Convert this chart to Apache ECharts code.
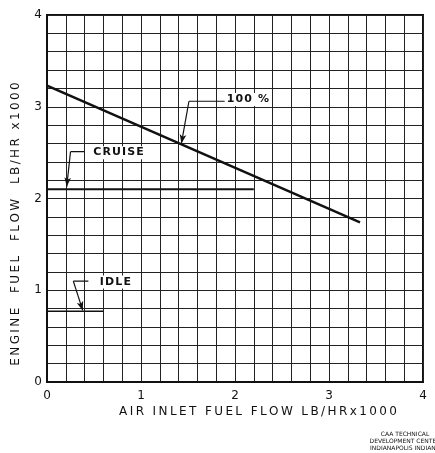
<!DOCTYPE html>
<html>
<head>
<meta charset="utf-8">
<script src="https://cdn.jsdelivr.net/npm/echarts@6/dist/echarts.min.js"></script>
<style>
  html, body { margin: 0; padding: 0; background: #fff; }
  #chart { width: 435px; height: 453px; }
</style>
</head>
<body>
<div id="chart"></div>
<script>
// Engine fuel flow vs. air inlet fuel flow (lb/hr x 1000)
var xTicks = [0, 1, 2, 3, 4];
var yTicks = [0, 1, 2, 3, 4];

// operating lines
var fullPowerLine = [[0, 3.23], [3.33, 1.74]];
var cruiseLine = [[0, 2.10], [2.20, 2.10]];
var idleLine = [[0, 0.77], [0.60, 0.77]];

// callouts: label text, label anchor, leader elbow, leader end, arrow tip
var callouts = [
  { text: '100 %', at: [1.88, 3.08], elbow: [1.51, 3.06], end: [1.89, 3.06], tip: [1.43, 2.60] },
  { text: 'CRUISE', at: [0.46, 2.50], elbow: [0.25, 2.51], end: [0.40, 2.51], tip: [0.21, 2.13] },
  { text: 'IDLE', at: [0.53, 1.09], elbow: [0.28, 1.10], end: [0.44, 1.10], tip: [0.38, 0.78] }
];

var ink = '#111';
var font = '"DejaVu Sans", sans-serif';

// spread lettering out like a drafting stencil
function spaced(s, gap) {
  return s.split('').join(gap);
}

function isWhole(v) { return Math.abs(v - Math.round(v)) < 1e-6; }

function plainLine(name, data, width) {
  return {
    name: name, type: 'line', data: data, symbol: 'none', silent: true,
    lineStyle: { color: ink, width: width }, z: 5
  };
}

var series = [
  plainLine('100%', fullPowerLine, 2.5),
  plainLine('CRUISE', cruiseLine, 2),
  plainLine('IDLE', idleLine, 1.5)
];

callouts.forEach(function (c) {
  series.push({
    type: 'line', data: [c.elbow, c.end], symbol: 'none', silent: true,
    lineStyle: { color: ink, width: 1.2 }, z: 6,
    markLine: {
      silent: true, symbol: ['none', 'arrow'], symbolSize: [5, 9],
      lineStyle: { color: ink, width: 1.2, type: 'solid' },
      label: { show: false },
      data: [[{ coord: c.elbow }, { coord: c.tip }]]
    },
    markPoint: {
      silent: true, symbol: 'rect', symbolSize: 0.1,
      label: {
        show: true, position: 'right', distance: 0,
        formatter: spaced(c.text, '\u200A'), color: ink, fontFamily: font, fontSize: 11,
        fontWeight: 'bold', backgroundColor: '#fff', padding: [1, 3, 1, 3]
      },
      data: [{ coord: c.at }]
    }
  });
});

var chart = echarts.init(document.getElementById('chart'), null, { renderer: 'canvas' });
chart.setOption({
  animation: false,
  backgroundColor: '#fff',
  grid: {
    left: 47, top: 15, right: 12, bottom: 71,
    show: true, borderColor: ink, borderWidth: 2, backgroundColor: 'transparent'
  },
  xAxis: {
    type: 'value', min: xTicks[0], max: xTicks[xTicks.length - 1], interval: 0.2,
    axisLine: { show: true, lineStyle: { color: ink, width: 2 } },
    axisTick: { show: false },
    axisLabel: {
      color: ink, fontFamily: font, fontSize: 12, margin: 8,
      formatter: function (v) { return isWhole(v) ? String(Math.round(v)) : ''; }
    },
    splitLine: { show: true, lineStyle: { color: '#222', width: 1 } }
  },
  yAxis: {
    type: 'value', min: yTicks[0], max: yTicks[yTicks.length - 1], interval: 0.2,
    axisLine: { show: true, lineStyle: { color: ink, width: 2 } },
    axisTick: { show: false },
    axisLabel: {
      color: ink, fontFamily: font, fontSize: 12, margin: 5,
      formatter: function (v) { return isWhole(v) ? String(Math.round(v)) : ''; }
    },
    splitLine: { show: true, lineStyle: { color: '#222', width: 1 } }
  },
  graphic: [
    {
      type: 'text', x: 16, y: 224, rotation: Math.PI / 2,
      style: {
        text: spaced('ENGINE  FUEL  FLOW  LB/HR x1000', '\u2009'), fill: ink, font: '12px ' + font,
        textAlign: 'center', textVerticalAlign: 'middle'
      }
    },
    {
      type: 'text', x: 258, y: 412,
      style: {
        text: spaced('AIR INLET FUEL FLOW LB/HRx1000', '\u2009'), fill: ink, font: '12px ' + font,
        textAlign: 'center', textVerticalAlign: 'middle'
      }
    },
    {
      type: 'text', x: 405, y: 441,
      style: {
        text: 'CAA TECHNICAL\nDEVELOPMENT CENTER\nINDIANAPOLIS INDIANA', fill: ink,
        font: '6px ' + font, lineHeight: 7, textAlign: 'center', textVerticalAlign: 'middle'
      }
    }
  ],
  series: series
});
</script>
</body>
</html>
